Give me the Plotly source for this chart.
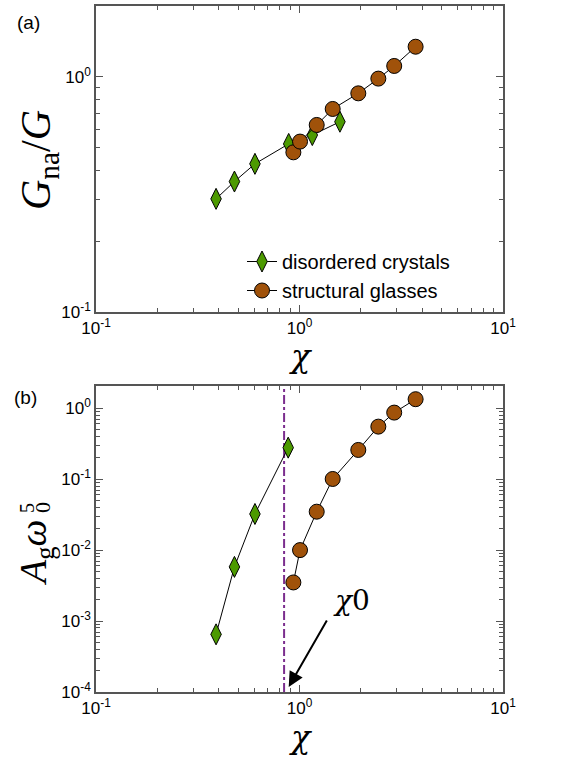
import plotly.graph_objects as go
import numpy as np

# ---- data ----
chi_cryst = [0.389, 0.479, 0.604, 0.885, 1.156, 1.58]
gna_cryst = [0.303, 0.359, 0.427, 0.519, 0.566, 0.645]

chi_glass = [0.933, 1.006, 1.215, 1.456, 1.945, 2.44, 2.92, 3.72]
gna_glass = [0.478, 0.531, 0.625, 0.731, 0.852, 0.984, 1.114, 1.345]

chi_cryst_b = [0.389, 0.479, 0.604, 0.880]
ag_cryst = [6.5e-4, 5.8e-3, 0.0323, 0.278]

chi_glass_b = [0.933, 1.006, 1.215, 1.456, 1.945, 2.44, 2.92, 3.72]
ag_glass = [3.5e-3, 0.0100, 0.0348, 0.1006, 0.258, 0.55, 0.867, 1.34]

chi0 = 0.84
x_ticks = [0.1, 1, 10]
x_ticktext = ["10<sup>-1</sup>", "10<sup>0</sup>", "10<sup>1</sup>"]
ya_ticks = [0.1, 1]
ya_ticktext = ["10<sup>-1</sup>", "10<sup>0</sup>"]
yb_ticks = [1e-4, 1e-3, 1e-2, 1e-1, 1]
yb_ticktext = ["10<sup>-4</sup>", "10<sup>-3</sup>", "10<sup>-2</sup>", "10<sup>-1</sup>", "10<sup>0</sup>"]

GREEN = "#4c9a00"
BROWN = "#a0520a"
FRAME = "#555555"

def minor_vals(lo_exp, hi_exp):
    v = []
    for e in range(lo_exp, hi_exp + 1):
        for m in range(2, 10):
            v.append(m * 10.0 ** e)
    return v

fig = go.Figure()

mk_d = dict(symbol="diamond-tall", size=15, color=GREEN, line=dict(color="black", width=1))
mk_c = dict(symbol="circle", size=15, color=BROWN, line=dict(color="black", width=1))
ln = dict(color="black", width=1)

fig.add_trace(go.Scatter(x=chi_cryst, y=gna_cryst, mode="lines+markers", marker=mk_d, line=ln,
                         name="disordered crystals", xaxis="x", yaxis="y"))
fig.add_trace(go.Scatter(x=chi_glass, y=gna_glass, mode="lines+markers", marker=mk_c, line=ln,
                         name="structural glasses", xaxis="x", yaxis="y"))

fig.add_trace(go.Scatter(x=[chi0, chi0], y=[1e-4, 2.05], mode="lines",
                         line=dict(color="#7b2d8e", width=2, dash="dashdot"),
                         showlegend=False, xaxis="x2", yaxis="y2"))
fig.add_trace(go.Scatter(x=chi_cryst_b, y=ag_cryst, mode="lines+markers", marker=mk_d, line=ln,
                         showlegend=False, xaxis="x2", yaxis="y2"))
fig.add_trace(go.Scatter(x=chi_glass_b, y=ag_glass, mode="lines+markers", marker=mk_c, line=ln,
                         showlegend=False, xaxis="x2", yaxis="y2"))

tickfont = dict(family="Liberation Sans, Arial", size=17, color="black")

def xax(anchor):
    return dict(type="log", range=[-1, 1], domain=[96/584, 503/584], anchor=anchor,
                automargin=False,
                tickvals=x_ticks, ticktext=x_ticktext, ticks="inside", ticklen=7,
                tickcolor=FRAME, tickwidth=1, showline=True, linecolor=FRAME, linewidth=1.5,
                mirror="allticks", showgrid=False, zeroline=False, tickfont=tickfont,
                minor=dict(tickvals=minor_vals(-1, 0), ticks="inside", ticklen=4,
                           tickcolor=FRAME, tickwidth=1, showgrid=False))

def yax(anchor, rng, dom, tv, tt, minors):
    return dict(type="log", range=rng, domain=dom, anchor=anchor, automargin=False,
                tickvals=tv, ticktext=tt, ticks="inside", ticklen=7,
                tickcolor=FRAME, tickwidth=1, showline=True, linecolor=FRAME, linewidth=1.5,
                mirror="allticks", showgrid=False, zeroline=False, tickfont=tickfont,
                minor=dict(tickvals=minors, ticks="inside", ticklen=4,
                           tickcolor=FRAME, tickwidth=1, showgrid=False))

fig.update_layout(
    width=584, height=757,
    margin=dict(l=0, r=0, t=0, b=0, autoexpand=False),
    paper_bgcolor="white", plot_bgcolor="white",
    xaxis=xax("y"),
    yaxis=yax("x", [-1, 0.302], [1 - 312/757, 1 - 6/757], ya_ticks, ya_ticktext, minor_vals(-1, -1)),
    xaxis2=xax("y2"),
    yaxis2=yax("x2", [-4, 0.313], [1 - 692/757, 1 - 386/757], yb_ticks, yb_ticktext, minor_vals(-4, -1)),
    showlegend=True,
    legend=dict(x=242/584, y=1 - 242/757, xanchor="left", yanchor="top",
                bgcolor="rgba(0,0,0,0)", font=dict(family="Liberation Sans, Arial", size=20, color="black"),
                tracegroupgap=0, itemwidth=30),
)

serif = "DejaVu Serif, Liberation Serif, serif"
lserif = "Liberation Serif, DejaVu Serif, serif"

def pann(text, px, py, size, family, angle=0):
    return dict(text=text, x=px/584, y=1 - py/757, xref="paper", yref="paper",
                xanchor="center", yanchor="middle", showarrow=False, textangle=angle,
                font=dict(family=family, size=size, color="black"))

anns = [
    pann("(a)", 28, 23, 19, "Liberation Sans, Arial"),
    pann("(b)", 25, 398, 19, "Liberation Sans, Arial"),
    pann("<i>G</i><sub>na</sub>/<i>G</i>", 39, 160, 42, lserif, -90),
    pann("<i>χ</i>", 300, 356, 32, serif),
    pann("<i>A</i><sub>g</sub><i>ω</i>", 36, 553, 38, lserif, -90),
    pann("5", 27, 508, 20, lserif, -90),
    pann("0", 42, 508, 22, lserif, -90),
    pann("<i>χ</i>", 300, 737, 32, serif),
    dict(text="<i>χ</i>0", x=np.log10(1.81), y=np.log10(1.98e-3), xref="x2", yref="y2", showarrow=False,
         xanchor="center", yanchor="middle", font=dict(family=serif, size=28, color="black")),
    dict(text="", x=np.log10(0.885), y=np.log10(1.18e-4), xref="x2", yref="y2",
         showarrow=True, ax=39, ay=-68, arrowhead=2, arrowsize=1.5, arrowwidth=2, arrowcolor="black"),
]
fig.update_layout(annotations=anns)

fig.write_html("out.html")
